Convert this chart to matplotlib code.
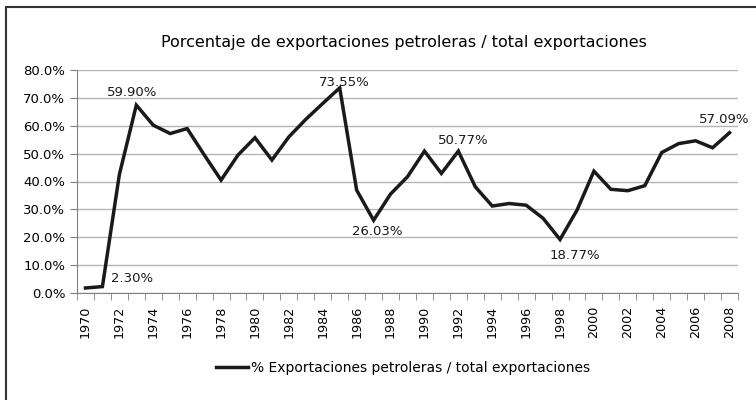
import matplotlib
matplotlib.use('Agg')
import matplotlib.pyplot as plt
from matplotlib.patches import Rectangle
from matplotlib.ticker import FuncFormatter, FixedLocator

years = list(range(1970, 2009))
share = [1.8, 2.3, 42.5, 67.4, 60.2, 57.2, 59.0, 49.6, 40.5, 49.5,
         55.7, 47.7, 56.0, 62.3, 68.0, 73.6, 36.9, 26.1, 35.5, 41.7,
         50.9, 42.9, 50.9, 38.1, 31.2, 32.1, 31.5, 26.8, 19.2, 29.7,
         43.7, 37.2, 36.7, 38.5, 50.4, 53.6, 54.6, 52.1, 57.5]

# custom data labels: (year, text, x offset px, y offset px)
labels = [(1973, '59.90%', -4, 13), (1971, '2.30%', 30, 8),
          (1985, '73.55%', 5, 5), (1987, '26.03%', 4, -11),
          (1992, '50.77%', 5, 11), (1998, '18.77%', 15, -16),
          (2008, '57.09%', -5, 13)]

title = 'Porcentaje de exportaciones petroleras / total exportaciones'
series_name = '% Exportaciones petroleras / total exportaciones'

plt.rcParams['font.family'] = ['DejaVu Sans']
fig = plt.figure(figsize=(7.56, 4.0), dpi=100)
ax = fig.add_axes([77 / 756, 107 / 400, 661 / 756, 223 / 400])

idx = list(range(len(years)))
line, = ax.plot(idx, share, color='#1a1a1a', linewidth=2.5, label=series_name,
                solid_joinstyle='miter')

for yr, txt, dx, dy in labels:
    i = years.index(yr)
    ax.annotate(txt, (i, share[i]), xytext=(dx, dy), textcoords='offset pixels',
                ha='center', va='center', fontsize=9.5, color='#1a1a1a')

ax.set_xlim(-0.5, len(years) - 0.5)
ax.set_ylim(0, 80)
ax.set_yticks(range(0, 81, 10))
ax.yaxis.set_major_formatter(FuncFormatter(lambda v, p: f'{v:.1f}%'))
ax.set_xticks(idx[::2])
ax.set_xticklabels([str(y) for y in years[::2]], rotation=90)
ax.xaxis.set_minor_locator(FixedLocator([i - 0.5 for i in range(len(years) + 1)]))
ax.tick_params(axis='x', which='major', length=0, pad=9, labelsize=9.2)
ax.tick_params(axis='x', which='minor', length=5, color='#808080')
ax.tick_params(axis='y', length=5, color='#808080', labelsize=9.5)

ax.grid(axis='y', color='#b5b5b5', linewidth=1)
ax.set_axisbelow(True)
for s in ['top', 'right']:
    ax.spines[s].set_visible(False)
ax.spines['left'].set_color('#808080')
ax.spines['bottom'].set_color('#808080')

fig.text(404 / 756, 1 - 42 / 400, title, ha='center', va='center', fontsize=11.5)
fig.legend(handles=[line], loc='center', bbox_to_anchor=(403 / 756, 1 - 368 / 400),
           frameon=False, fontsize=10, handlelength=2.3, handletextpad=0.2)

fig.patches.append(Rectangle((6 / 756, -0.1), 1.2, 1 - 7 / 400 + 0.1,
                             transform=fig.transFigure, fill=False,
                             edgecolor='#333333', linewidth=1.5))

fig.savefig('out.png', dpi=100)
